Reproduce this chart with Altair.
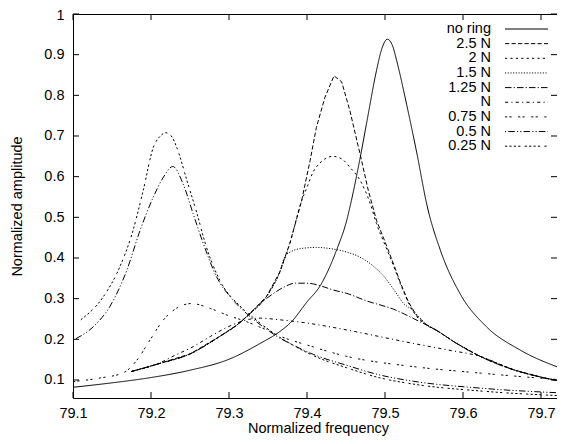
import altair as alt
import pandas as pd

FONT = "Liberation Sans"
FS = 14.5

series_names = ["no ring", "2.5 N", "2 N", "1.5 N", "1.25 N", "N", "0.75 N", "0.5 N", "0.25 N"]

# gnuplot postscript line types (scaled to pixels)
dashes = [
    [1, 0],
    [4.3, 2.2],
    [2.2, 3.2],
    [1.1, 1.6],
    [6.5, 2.2, 1.1, 2.2],
    [3.2, 3.2, 1.1, 3.2],
    [2.2, 2.2, 2.2, 6.5],
    [1.1, 2.2, 6.5, 2.2, 1.1, 2.2],
    [2.2, 2.2, 2.2, 2.2, 2.2, 2.2, 2.2, 4.3],
]

x_ticks = [79.1, 79.2, 79.3, 79.4, 79.5, 79.6, 79.7]
y_ticks = [0.1, 0.2, 0.3, 0.4, 0.5, 0.6, 0.7, 0.8, 0.9, 1.0]

no_ring_x = [79.10, 79.15, 79.20, 79.25, 79.30, 79.34, 79.365, 79.38, 79.40, 79.417, 79.438, 79.451,
             79.457, 79.468, 79.477, 79.489, 79.496, 79.503, 79.510, 79.515, 79.528, 79.541, 79.554,
             79.571, 79.596, 79.630, 79.673, 79.728]
no_ring_y = [0.082, 0.093, 0.106, 0.124, 0.151, 0.190, 0.219, 0.243, 0.292, 0.332, 0.420, 0.493,
             0.542, 0.645, 0.738, 0.860, 0.915, 0.938, 0.920, 0.885, 0.775, 0.656, 0.528,
             0.419, 0.313, 0.231, 0.174, 0.127]

n25_x = [79.175, 79.21, 79.25, 79.288, 79.31, 79.325, 79.348, 79.365, 79.378, 79.393, 79.404, 79.412,
         79.423, 79.4346, 79.4445, 79.455, 79.468, 79.4786, 79.489, 79.50, 79.51, 79.52, 79.53, 79.54,
         79.553, 79.566, 79.59, 79.622, 79.665, 79.70, 79.728]
n25_y = [0.121, 0.140, 0.164, 0.207, 0.235, 0.260, 0.305, 0.365, 0.436, 0.540, 0.640, 0.721,
         0.795, 0.848, 0.833, 0.762, 0.656, 0.566, 0.493, 0.440, 0.390, 0.338, 0.292, 0.260,
         0.236, 0.222, 0.192, 0.158, 0.125, 0.107, 0.096]

n20_x = [79.175, 79.21, 79.25, 79.288, 79.31, 79.325, 79.348, 79.365, 79.378, 79.393, 79.40, 79.408,
         79.418, 79.433, 79.445, 79.455, 79.468, 79.481, 79.489, 79.50, 79.51, 79.52, 79.53, 79.54,
         79.553, 79.566, 79.59, 79.622, 79.665, 79.70, 79.728]
n20_y = [0.121, 0.140, 0.164, 0.207, 0.235, 0.260, 0.305, 0.365, 0.436, 0.540, 0.574, 0.612,
         0.636, 0.650, 0.643, 0.623, 0.591, 0.534, 0.485, 0.432, 0.385, 0.335, 0.290, 0.258,
         0.235, 0.222, 0.192, 0.158, 0.125, 0.107, 0.096]

n15_x = [79.175, 79.21, 79.25, 79.288, 79.31, 79.325, 79.348, 79.365, 79.372, 79.38, 79.395, 79.412,
         79.43, 79.45, 79.468, 79.485, 79.498, 79.515, 79.523, 79.535, 79.545, 79.553, 79.566, 79.59,
         79.622, 79.665, 79.70, 79.728]
n15_y = [0.121, 0.140, 0.164, 0.207, 0.235, 0.260, 0.305, 0.365, 0.405, 0.416, 0.424, 0.426,
         0.423, 0.415, 0.402, 0.380, 0.356, 0.312, 0.290, 0.272, 0.252, 0.236, 0.222, 0.192,
         0.158, 0.125, 0.107, 0.096]

n125_x = [79.175, 79.21, 79.25, 79.288, 79.31, 79.325, 79.338, 79.355, 79.37, 79.385, 79.40, 79.42,
          79.434, 79.451, 79.477, 79.50, 79.511, 79.525, 79.545, 79.562, 79.59, 79.622, 79.665,
          79.70, 79.728]
n125_y = [0.121, 0.140, 0.164, 0.207, 0.235, 0.260, 0.285, 0.310, 0.328, 0.338, 0.338, 0.330,
          0.321, 0.313, 0.294, 0.281, 0.274, 0.262, 0.243, 0.227, 0.192, 0.158, 0.125,
          0.107, 0.096]

n10_x = [79.175, 79.21, 79.23, 79.254, 79.276, 79.297, 79.31, 79.325, 79.34, 79.365, 79.40, 79.451,
         79.50, 79.536, 79.58, 79.622, 79.665, 79.70, 79.728]
n10_y = [0.121, 0.141, 0.160, 0.182, 0.207, 0.229, 0.240, 0.249, 0.252, 0.248, 0.240, 0.223,
         0.204, 0.190, 0.174, 0.158, 0.125, 0.107, 0.096]

n075_x = [79.10, 79.135, 79.165, 79.182, 79.199, 79.216, 79.235, 79.252, 79.276, 79.297, 79.323,
          79.348, 79.365, 79.40, 79.451, 79.536, 79.622, 79.728]
n075_y = [0.096, 0.105, 0.118, 0.149, 0.199, 0.248, 0.279, 0.288, 0.276, 0.260, 0.243,
          0.223, 0.208, 0.186, 0.158, 0.133, 0.117, 0.100]

n05_x = [79.10, 79.126, 79.147, 79.169, 79.186, 79.203, 79.216, 79.228, 79.241, 79.254, 79.267,
         79.284, 79.305, 79.327, 79.348, 79.365, 79.378, 79.408, 79.451, 79.494, 79.536, 79.622, 79.728]
n05_y = [0.198, 0.231, 0.280, 0.370, 0.468, 0.550, 0.599, 0.625, 0.583, 0.509, 0.436,
         0.354, 0.297, 0.256, 0.225, 0.203, 0.190, 0.163, 0.136, 0.112, 0.097, 0.080, 0.068]

n025_x = [79.11, 79.139, 79.160, 79.177, 79.190, 79.203, 79.212, 79.219, 79.226, 79.233, 79.246,
          79.259, 79.271, 79.288, 79.314, 79.33, 79.348, 79.365, 79.378, 79.408, 79.451, 79.494,
          79.536, 79.622, 79.728]
n025_y = [0.248, 0.305, 0.378, 0.468, 0.566, 0.672, 0.700, 0.708, 0.700, 0.672, 0.591,
          0.509, 0.427, 0.346, 0.282, 0.255, 0.228, 0.205, 0.190, 0.160, 0.130, 0.105,
          0.090, 0.073, 0.061]

all_x = [no_ring_x, n25_x, n20_x, n15_x, n125_x, n10_x, n075_x, n05_x, n025_x]
all_y = [no_ring_y, n25_y, n20_y, n15_y, n125_y, n10_y, n075_y, n05_y, n025_y]

rows = []
for name, xs_, ys_ in zip(series_names, all_x, all_y):
    for i, (a, b) in enumerate(zip(xs_, ys_)):
        rows.append({"series": name, "x": a, "y": b, "i": i})
df = pd.DataFrame(rows)

W, H = 484, 384
TL = 6

dash_scale = alt.Scale(domain=series_names, range=dashes)
xsc = alt.Scale(domain=[79.1, 79.7205], nice=False, zero=False)
ysc = alt.Scale(domain=[0.0557, 1.0], nice=False, zero=False)

x_axis = alt.Axis(values=x_ticks, format=".1f", title="Normalized frequency",
                  labelPadding=8.8, titleX=245, titleY=30.7,
                  titleBaseline="middle", titleAlign="center")
y_axis = alt.Axis(values=y_ticks, format=".1~f", title="Normalized amplitude",
                  labelPadding=9, titleX=-56, titleY=H / 2, titleAngle=270,
                  titleBaseline="middle", titleAlign="center",
                  labelOffset={"condition": {"test": "datum.value >= 0.99", "value": 1.5},
                               "value": 0})


def curve_layer(data, interp):
    return alt.Chart(data).mark_line(color="black", strokeWidth=1, clip=True,
                                     interpolate=interp).encode(
        x=alt.X("x:Q", scale=xsc, axis=x_axis),
        y=alt.Y("y:Q", scale=ysc, axis=y_axis),
        strokeDash=alt.StrokeDash("series:N", scale=dash_scale, legend=None),
        detail="series:N",
        order="i:Q",
    )


smooth = curve_layer(df[df["series"] != "2.5 N"], "monotone")
sharp = curve_layer(df[df["series"] == "2.5 N"], "linear")

xt = pd.DataFrame({"t": x_ticks})
yt = pd.DataFrame({"t": y_ticks})
tick_style = dict(color="black", strokeWidth=1)
xb = alt.Chart(xt).mark_rule(**tick_style).encode(
    x=alt.X("t:Q", scale=xsc, axis=x_axis), y=alt.value(H), y2=alt.value(H - TL))
xtop = alt.Chart(xt).mark_rule(**tick_style).encode(
    x=alt.X("t:Q", scale=xsc, axis=x_axis), y=alt.value(0), y2=alt.value(TL))
yl = alt.Chart(yt).mark_rule(**tick_style).encode(
    y=alt.Y("t:Q", scale=ysc, axis=y_axis), x=alt.value(0), x2=alt.value(TL))
yr = alt.Chart(yt).mark_rule(**tick_style).encode(
    y=alt.Y("t:Q", scale=ysc, axis=y_axis), x=alt.value(W), x2=alt.value(W - TL))

main = alt.layer(smooth, sharp, xb, xtop, yl, yr)

leg_df = pd.DataFrame({"series": series_names, "k": list(range(len(series_names)))})
lsc = alt.Scale(domain=[0, 8], range=[15, 15 + 8 * 14.65])
leg_text = alt.Chart(leg_df).mark_text(align="right", baseline="middle", font=FONT,
                                       fontSize=FS, color="black").encode(
    x=alt.value(418), y=alt.Y("k:Q", scale=lsc, axis=None), text="series:N")
leg_lines = alt.Chart(leg_df).mark_rule(color="black", strokeWidth=1).encode(
    x=alt.value(432), x2=alt.value(475), y=alt.Y("k:Q", scale=lsc, axis=None),
    strokeDash=alt.StrokeDash("series:N", scale=dash_scale, legend=None))
legend = alt.layer(leg_text, leg_lines)

chart = alt.layer(main, legend).resolve_scale(y="independent").properties(
    width=W, height=H,
    autosize=alt.AutoSizeParams(type="none"),
    padding={"left": 65, "top": 6, "right": 0, "bottom": 38},
    background="white",
).configure_view(stroke="black", strokeWidth=1).configure_axis(
    labelFont=FONT, titleFont=FONT, labelFontSize=FS, titleFontSize=FS,
    labelColor="black", titleColor="black", titleFontWeight="normal",
    domain=False, ticks=False, grid=False, labelFlush=False, labelOverlap=False,
)

chart.save("out.html", embed_options={"renderer": "svg", "actions": False})
